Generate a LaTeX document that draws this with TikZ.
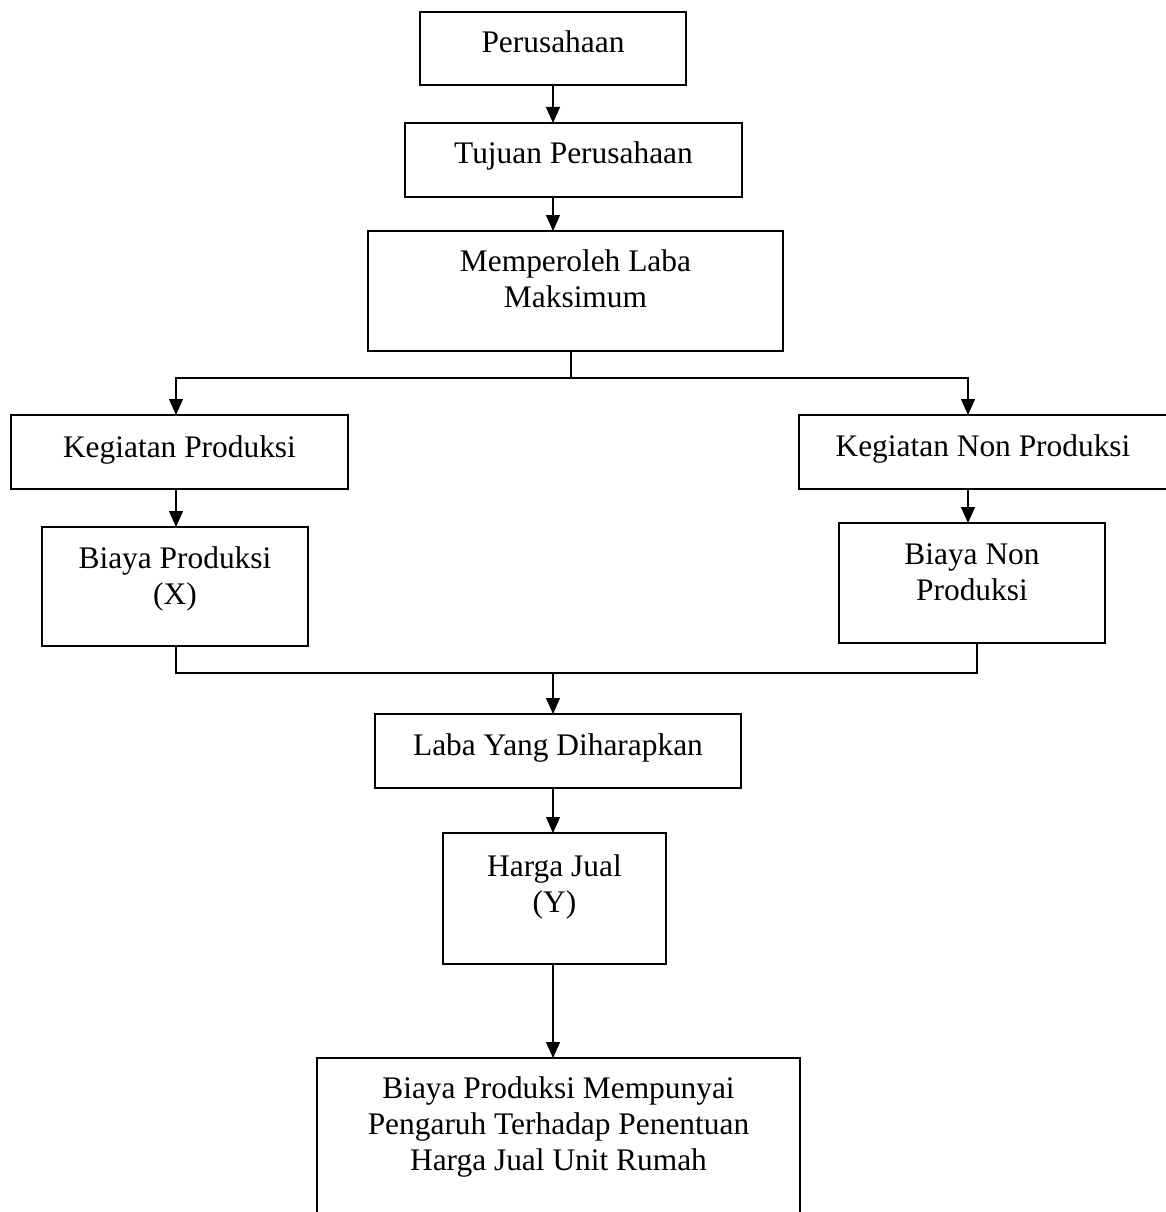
\documentclass[tikz,border=0pt]{standalone}
\usepackage{fontspec}
\setmainfont{Liberation Serif}
\usetikzlibrary{arrows.meta}
\begin{document}
\begin{tikzpicture}[x=1pt,y=-1pt,
  box/.style={draw, line width=1.2pt, inner sep=0pt, outer sep=0pt, rectangle},
  lbl/.style={font=\fontsize{31.4}{36}\selectfont, align=center, inner sep=0pt, anchor=base},
  conn/.style={line width=1.2pt},
  arr/.style={conn, -{Triangle[width=14pt,length=16pt]}}]
\useasboundingbox (0,0) rectangle (1166,1212);
\clip (0,0) rectangle (1166,1212);
% boxes
\node[box, minimum width=266pt, minimum height=73pt]  (p)   at (553,48.5) {};
\node[box, minimum width=337pt, minimum height=74pt]  (t)   at (573.5,160) {};
\node[box, minimum width=415pt, minimum height=120pt] (m)   at (575.5,291) {};
\node[box, minimum width=337pt, minimum height=74pt]  (kp)  at (179.5,452) {};
\node[box, minimum width=381pt, minimum height=74pt]  (knp) at (989.5,452) {};
\node[box, minimum width=266pt, minimum height=119pt] (bp)  at (175,586.5) {};
\node[box, minimum width=266pt, minimum height=120pt] (bnp) at (972,583) {};
\node[box, minimum width=366pt, minimum height=74pt]  (lb)  at (558,751) {};
\node[box, minimum width=223pt, minimum height=131pt] (hj)  at (554.5,898.5) {};
\node[box, minimum width=483pt, minimum height=172pt] (fin) at (558.5,1144) {};
% texts (anchor base = baseline of the last line)
\node[lbl] (pt)   at (553,53)    {Perusahaan};
\node[lbl] (tt)   at (573.5,164) {Tujuan Perusahaan};
\node[lbl] (mt)   at (575.5,307) {Memperoleh Laba\\Maksimum};
\node[lbl] (kpt)  at (179.5,457) {Kegiatan Produksi};
\node[lbl] (knpt) at (983,456)   {Kegiatan Non Produksi};
\node[lbl] (bpt)  at (175,604)   {Biaya Produksi\\(X)};
\node[lbl] (bnpt) at (972,600)   {Biaya Non\\Produksi};
\node[lbl] (lbt)  at (558,755)   {Laba Yang Diharapkan};
\node[lbl] (hjt)  at (554.5,912) {Harga Jual\\(Y)};
\node[lbl] (fint) at (558.5,1170) {Biaya Produksi Mempunyai\\Pengaruh Terhadap Penentuan\\Harga Jual Unit Rumah};
% helper coordinates
\coordinate (split) at (571,378);
\coordinate (sL) at (176,378);
\coordinate (sR) at (968,378);
\coordinate (jL) at (176,673);
\coordinate (jR) at (977,673);
\coordinate (jM) at (553,673);
% connectors
\draw[arr] (p.south) -- (p.south |- t.north);
\draw[arr] (t.south -| p.south) -- (m.north -| p.south);
\draw[conn] (m.south -| split) -- (split);
\draw[arr] (split) -| (kp.north -| sL);
\draw[arr] (split) -| (knp.north -| sR);
\draw[arr] (kp.south -| sL) -- (bp.north -| sL);
\draw[arr] (knp.south -| sR) -- (bnp.north -| sR);
\draw[conn] (bp.south -| jL) -- (jL) -- (jR) -- (bnp.south -| jR);
\draw[arr] (jM) -- (lb.north -| jM);
\draw[arr] (lb.south -| jM) -- (hj.north -| jM);
\draw[arr] (hj.south -| jM) -- (fin.north -| jM);
\end{tikzpicture}
\end{document}
